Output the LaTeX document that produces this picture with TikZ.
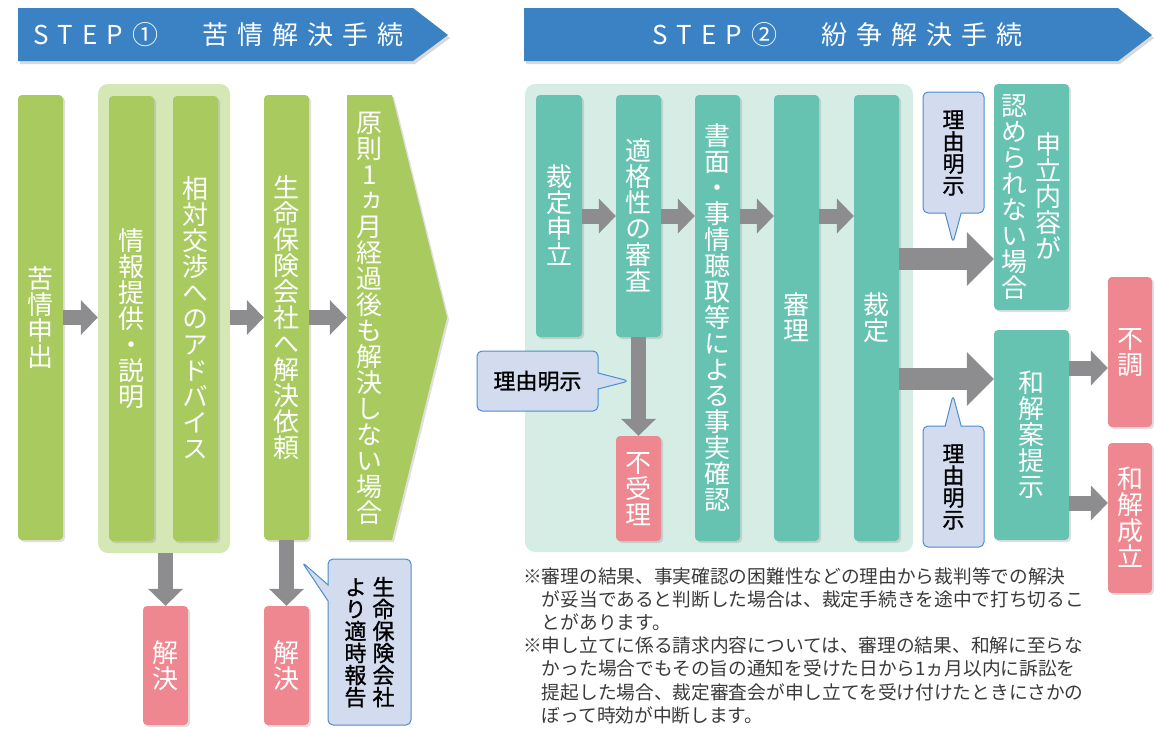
\documentclass[tikz,border=0pt]{standalone}
\usepackage{fontspec}
\setmainfont{Noto Sans CJK JP}
\newfontfamily\vfont[RawFeature=+vert]{Noto Sans CJK JP}
\newfontfamily\vbfont[RawFeature=+vert, FakeBold=1.2]{Noto Sans CJK JP}
\usetikzlibrary{arrows.meta,shapes.callouts,shadows}

\definecolor{bannerblue}{HTML}{3B82C4}
\definecolor{leafgreen}{HTML}{A8CA5E}
\definecolor{palegreen}{HTML}{D4E7B4}
\definecolor{boxteal}{HTML}{67C3B1}
\definecolor{paleteal}{HTML}{D6EDE6}
\definecolor{rose}{HTML}{EE8790}
\definecolor{arrowgray}{HTML}{8D8D8F}
\definecolor{notefill}{HTML}{D3DBEF}
\definecolor{noteline}{HTML}{4A8ECF}
\definecolor{notetext}{HTML}{3A3A3A}

\def\vtend{}\def\lsend{}
\def\vt#1{\vbox{\offinterlineskip\vtstep#1\vtend}}
\def\vtstep#1{\ifx#1\vtend\else\hbox to 1em{\hss\vrule height .88em depth .12em width 0pt\relax #1\hss}\expandafter\vtstep\fi}
\newdimen\lsgap \lsgap=9pt
\def\ls#1{\lsfirst#1\lsend}
\def\lsfirst#1{#1\lsnext}
\def\lsnext#1{\ifx#1\lsend\else\kern\lsgap#1\expandafter\lsnext\fi}

\tikzset{
	stepbox/.style={rounded corners=4pt, inner sep=0pt, minimum width=45pt, text=white,
		font=\vfont\fontsize{26}{26}\selectfont,
		drop shadow={opacity=.25, shadow xshift=2pt, shadow yshift=-2pt}},
	gbox/.style={stepbox, fill=leafgreen},
	tbox/.style={stepbox, fill=boxteal},
	rbox/.style={stepbox, fill=rose},
	blk/.style={draw=arrowgray, line width=15pt, -{Triangle[width=35pt,length=17pt,line width=0pt]}},
	bigblk/.style={draw=arrowgray, line width=22pt, -{Triangle[width=54pt,length=27pt,line width=0pt]}},
	balloon/.style={rectangle callout, draw=noteline, fill=notefill, line width=1pt, rounded corners=5pt,
		inner sep=0pt, callout pointer width=16pt, text=black, font=\vbfont\fontsize{22}{22}\selectfont},
	banner/.style={anchor=west, inner sep=0pt, text=white, font=\fontsize{26}{26}\selectfont}
}

\begin{document}
\begin{tikzpicture}[x=1pt, y=-1pt]
			%%%%% START %%%%%
			\useasboundingbox (0,0) rectangle (1155,728);
			
			\fill[bannerblue, drop shadow={opacity=.3, shadow xshift=2pt, shadow yshift=-3pt}] (18,8) -- (413,8) -- (448,35) -- (413,61) -- (18,61) -- cycle;
			\node[banner] (step1) at (33,35) {\ls{STEP①　苦情解決手続}};
			\fill[bannerblue, drop shadow={opacity=.3, shadow xshift=2pt, shadow yshift=-3pt}] (524,8) -- (1118,8) -- (1152,35) -- (1118,61) -- (524,61) -- cycle;
			\node[banner] (step2) at (652,35) {\ls{STEP②　紛争解決手続}};
			
			%% step 1
			\node[fill=palegreen, rounded corners=10pt, minimum width=132pt, minimum height=469pt] (grp) at (164,318.5) {};
			\node[gbox, minimum height=445pt] (kujo) at (40.5,317.5) {\vt{苦情申出}};
			\node[gbox, minimum height=445pt] (joho) at (131.5,318.5) {\vt{情報提供・説明}};
			\node[gbox, minimum height=445pt] (sodan) at (195.5,318.5) {\vt{相対交渉へのアドバイス}};
			\node[gbox, minimum height=445pt] (seimei) at (286.5,317.5) {\vt{生命保険会社へ解決依頼}};
			\fill[leafgreen, drop shadow={opacity=.25, shadow xshift=2pt, shadow yshift=-2pt}] (347,95) -- (392,95) -- (447,317.5) -- (392,540) -- (347,540) -- cycle;
			\node[text=white, inner sep=0pt, minimum width=45pt, minimum height=445pt, font=\vfont\fontsize{26}{26}\selectfont] (gensoku) at (369.5,317.5) {\vt{原則1ヵ月経過後も解決しない場合}};
			
			\node[rbox, minimum height=119pt] (kai1) at (165.5,665.5) {\vt{解決}};
			\node[rbox, minimum height=119pt] (kai2) at (286.5,665.5) {\vt{解決}};
			
			\draw[blk] (kujo.east) -- (kujo.east -| grp.west);
			\draw[blk] (grp.east |- seimei) -- (seimei.west);
			\draw[blk] (seimei.east) -- (gensoku.west);
			\draw[blk] (kai1.north |- grp.south) -- (kai1.north);
			\draw[blk] (seimei.south) -- (kai2.north);
			
			\node[balloon, minimum width=83pt, minimum height=166pt, callout absolute pointer={(302,562)}] (hokoku) at (369.5,642) {\hbox{\vt{より適時報告}\hskip6pt\vt{生命保険会社}}};
			
			%% step 2
			\node[fill=paleteal, rounded corners=10pt, minimum width=388pt, minimum height=468pt] (bg) at (719,318) {};
			\node[tbox, minimum width=46pt, minimum height=242pt] (moushi) at (559,216) {\vt{裁定申立}};
			\node[tbox, minimum height=242pt] (tekikaku) at (638.5,216) {\vt{適格性の審査}};
			\node[tbox, minimum height=446pt] (shomen) at (717.5,318) {\vt{書面・事情聴取等による事実確認}};
			\node[tbox, minimum height=446pt] (shinri) at (796.5,318) {\vt{審理}};
			\node[tbox, minimum height=446pt] (saitei) at (876.5,318) {\vt{裁定}};
			\node[rbox, minimum height=105pt] (fujuri) at (638.5,488.5) {\vt{不受理}};
			
			\node[tbox, minimum width=75pt, minimum height=226pt] (mitome) at (1031.5,197) {\hbox{$\vcenter{\vt{認められない場合}}$\hskip8pt$\vcenter{\vt{申立内容が}}$}};
			\node[tbox, minimum width=75pt, minimum height=210pt] (wakai) at (1031.5,435) {\vt{和解案提示}};
			\node[rbox, minimum width=44pt, minimum height=150pt] (fucho) at (1130,352) {\vt{不調}};
			\node[rbox, minimum width=44pt, minimum height=150pt] (seiritsu) at (1130,518) {\vt{和解成立}};
			
			\draw[blk] (moushi.east) -- (tekikaku.west);
			\draw[blk] (tekikaku.east) -- (tekikaku.east -| shomen.west);
			\draw[blk] (shomen.east |- moushi.east) -- (shinri.west |- moushi.east);
			\draw[blk] (shinri.east |- moushi.east) -- (saitei.west |- moushi.east);
			\draw[blk] (tekikaku.south) -- (fujuri.north);
			\draw[bigblk] ([yshift=59pt]saitei.east) -- ([yshift=59pt]saitei.east -| mitome.west);
			\draw[bigblk] ([yshift=-61pt]saitei.east) -- ([yshift=-61pt]saitei.east -| wakai.west);
			\draw[blk] ([yshift=67pt]wakai.east) -- ([yshift=67pt]wakai.east -| fucho.west);
			\draw[blk] ([yshift=-68pt]wakai.east) -- ([yshift=-68pt]wakai.east -| seiritsu.west);
			
			\node[balloon, minimum width=121pt, minimum height=60pt, callout absolute pointer={(629,381)}] (riyu1) at (537.5,381) {理由明示};
			\node[balloon, minimum width=61pt, minimum height=121pt, callout absolute pointer={(953,243)}] (riyu2) at (953.5,152.5) {\vt{理由明示}};
			\node[balloon, minimum width=61pt, minimum height=121pt, callout absolute pointer={(953,395)}] (riyu3) at (953.5,486.5) {\vt{理由明示}};
			
			\node[anchor=north west, align=left, inner sep=0pt, text=notetext, font=\fontsize{18.7}{23.2}\selectfont] (notes) at (523,567) {※審理の結果、事実確認の困難性などの理由から裁判等での解決\\\hspace*{1em}が妥当であると判断した場合は、裁定手続きを途中で打ち切るこ\\\hspace*{1em}とがあります。\\※申し立てに係る請求内容については、審理の結果、和解に至らな\\\hspace*{1em}かった場合でもその旨の通知を受けた日から1ヵ月以内に訴訟を\\\hspace*{1em}提起した場合、裁定審査会が申し立てを受け付けたときにさかの\\\hspace*{1em}ぼって時効が中断します。};
			%%%%% END %%%%%
\end{tikzpicture}
\end{document}
